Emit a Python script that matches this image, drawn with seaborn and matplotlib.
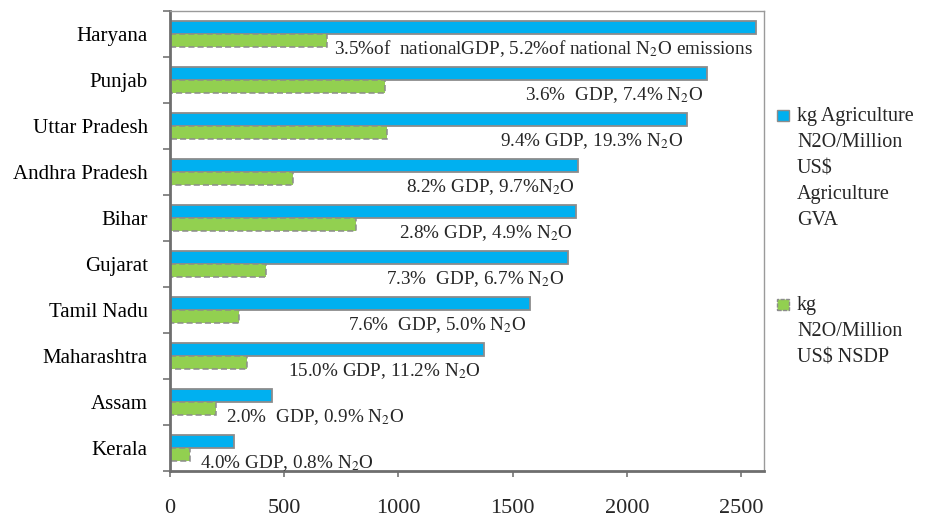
import numpy as np
import pandas as pd
import matplotlib
matplotlib.use("Agg")
import matplotlib.pyplot as plt
from matplotlib.patches import Rectangle
from matplotlib.ticker import FixedLocator, NullFormatter
import seaborn as sns

# Data
states = ["Haryana", "Punjab", "Uttar Pradesh", "Andhra Pradesh", "Bihar",
          "Gujarat", "Tamil Nadu", "Maharashtra", "Assam", "Kerala"]
kg_per_agri_gva = [2563, 2349, 2262, 1785, 1776, 1741, 1575, 1374, 446, 280]
kg_per_nsdp = [687, 940, 949, 538, 814, 420, 302, 337, 201, 87]
share_labels = [
    "3.5%of  nationalGDP, 5.2%of national N$_2$O emissions",
    "3.6%  GDP, 7.4% N$_2$O",
    "9.4% GDP, 19.3% N$_2$O",
    "8.2% GDP, 9.7%N$_2$O",
    "2.8% GDP, 4.9% N$_2$O",
    "7.3%  GDP, 6.7% N$_2$O",
    "7.6%  GDP, 5.0% N$_2$O",
    "15.0% GDP, 11.2% N$_2$O",
    "2.0%  GDP, 0.9% N$_2$O",
    "4.0% GDP, 0.8% N$_2$O",
]
series_names = ["kg Agriculture N2O/Million US$ Agriculture GVA",
                "kg N2O/Million US$ NSDP"]
legend_texts = ["kg Agriculture\nN2O/Million\nUS$\nAgriculture\nGVA",
                "kg\nN2O/Million\nUS$ NSDP"]
x_ticks = [0, 500, 1000, 1500, 2000, 2500]

BLUE = "#00B0F0"
GREEN = "#92D050"
EDGE = "#8C8C8C"

df = pd.DataFrame({
    "state": states * 2,
    "value": kg_per_agri_gva + kg_per_nsdp,
    "series": [series_names[0]] * len(states) + [series_names[1]] * len(states),
})

sns.set_style("white")
plt.rcParams["font.family"] = ["Liberation Serif", "DejaVu Serif"]
plt.rcParams["mathtext.fontset"] = "stix"

fig = plt.figure(figsize=(9.34, 5.17), dpi=100)
ax = fig.add_axes([170 / 934, 46 / 517, 594 / 934, 460 / 517])

sns.barplot(data=df, y="state", x="value", hue="series", order=states,
            hue_order=series_names, palette=[BLUE, GREEN], orient="h",
            width=0.58, dodge=True, saturation=1, legend=False,
            edgecolor=EDGE, linewidth=1.3, ax=ax)

for bar in ax.containers[1]:
    bar.set_linestyle((0, (4, 2)))
    bar.set_linewidth(1.1)

ax.set_xlim(0, 2600)
ax.set_ylim(len(states) - 0.5, -0.5)
ax.set_xlabel("")
ax.set_ylabel("")

# Category labels sit between tick marks drawn at group boundaries
ax.yaxis.set_major_locator(FixedLocator(np.arange(-0.5, len(states), 1.0)))
ax.yaxis.set_major_formatter(NullFormatter())
ax.yaxis.set_minor_locator(FixedLocator(np.arange(len(states))))
ax.set_yticklabels(states, minor=True)
ax.tick_params(axis="y", which="major", left=True, length=5, width=1.3,
               color="#7F7F7F", direction="out")
ax.tick_params(axis="y", which="minor", left=True, length=0, pad=16,
               labelsize=15, labelcolor="black")

ax.set_xticks(x_ticks)
ax.set_xticklabels([str(t) for t in x_ticks])
ax.tick_params(axis="x", bottom=True, length=4, width=1.3, color="#7F7F7F",
               direction="out", pad=16, labelsize=16)

for side in ["left", "bottom"]:
    ax.spines[side].set_color("#6E6E6E")
    ax.spines[side].set_linewidth(2)
for side in ["top", "right"]:
    ax.spines[side].set_color("#9A9A9A")
    ax.spines[side].set_linewidth(1)
    ax.spines[side].set_visible(True)

# Share-of-GDP / share-of-N2O annotations under each pair of bars
for i, (label, b, g) in enumerate(zip(share_labels, kg_per_agri_gva, kg_per_nsdp)):
    if b < 1000:
        ax.annotate(label, xy=(g, i + 0.32), xytext=(10, 0),
                    textcoords="offset pixels", ha="left", va="center",
                    fontsize=13.8)
    else:
        ax.annotate(label, xy=(b, i + 0.32), xytext=(-3, 0),
                    textcoords="offset pixels", ha="right", va="center",
                    fontsize=13.8)

# Legend on the right, swatch aligned with the first line of each entry
legend_tops = [115, 304]
for text, colour, top, dashed in zip(legend_texts, [BLUE, GREEN], legend_tops,
                                     [False, True]):
    sw = Rectangle((777 / 934, 1 - (top + 6) / 517), 12 / 934, 11 / 517,
                   transform=fig.transFigure, facecolor=colour,
                   edgecolor=EDGE, linewidth=1.0,
                   linestyle=(0, (3, 1)) if dashed else "-")
    fig.patches.append(sw)
    fig.text(797 / 934, 1 - (top - 8) / 517, text, ha="left", va="top",
             fontsize=14.5, linespacing=1.5)

fig.savefig("out.png", dpi=100)
